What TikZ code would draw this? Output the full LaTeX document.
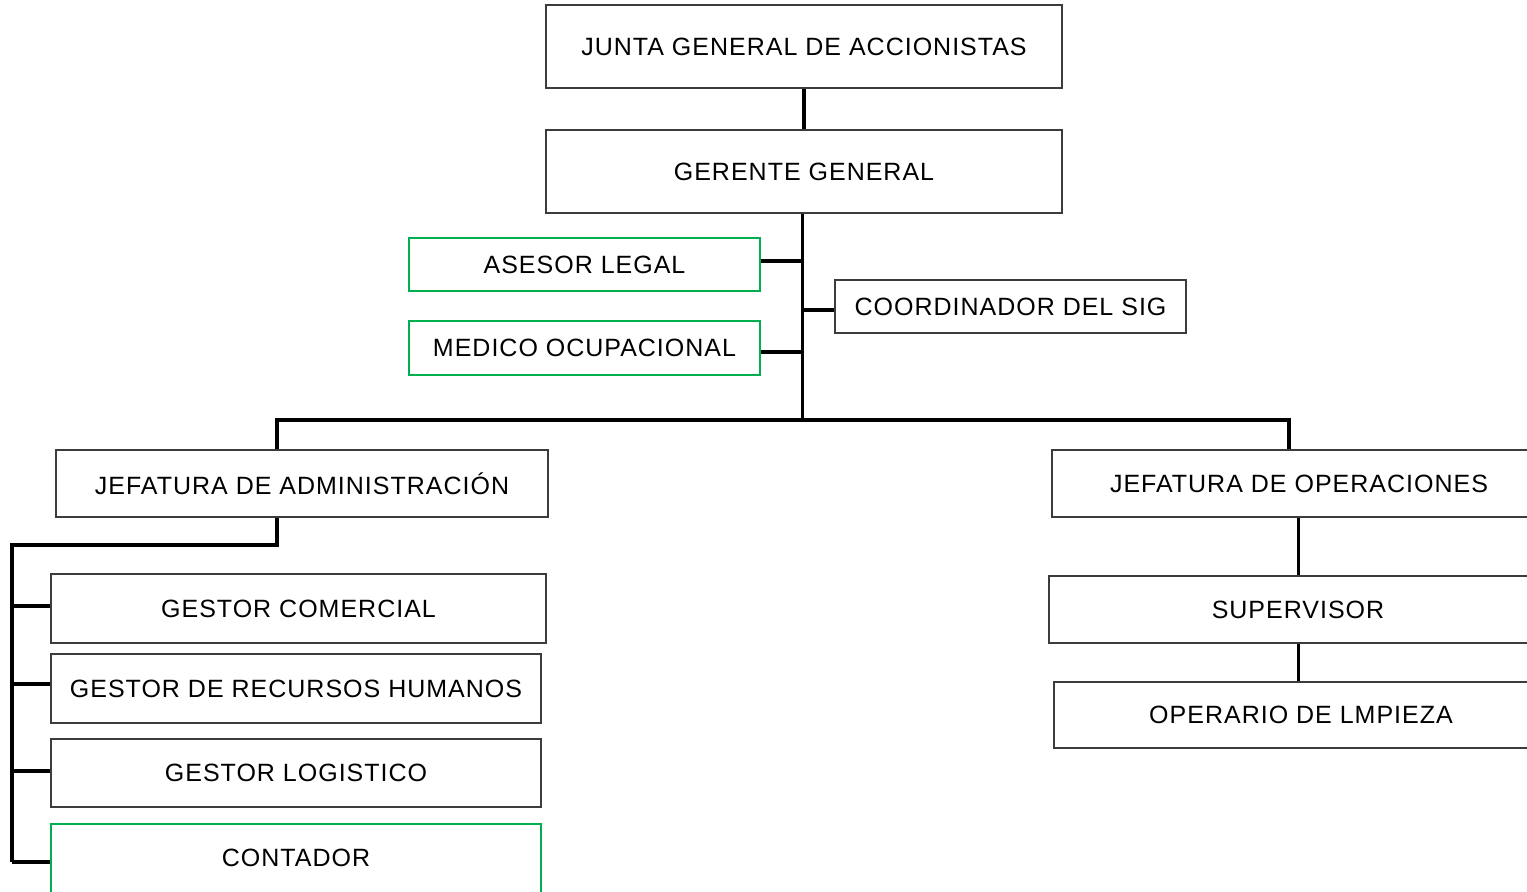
\documentclass[tikz,border=0pt]{standalone}
\usepackage{fontspec}
\setmainfont{Liberation Sans}[LetterSpace=4]
\definecolor{boxgreen}{RGB}{0,176,80}
\definecolor{boxgray}{RGB}{60,60,60}
\tikzset{
  orgbox/.style={draw=boxgray, line width=1.1pt, fill=white, inner sep=0pt, align=center,
    font=\fontsize{25}{30}\selectfont},
  greenbox/.style={orgbox, draw=boxgreen},
  conn/.style={line width=3.2pt, black}
}
\begin{document}
\begin{tikzpicture}[x=1pt,y=-1pt]
\clip (0,0) rectangle (1527,892);
\fill[white] (0,0) rectangle (1527,892);
% nodes
\node[orgbox, minimum width=516pt, minimum height=83pt] (junta) at (804,46.5) {JUNTA GENERAL DE ACCIONISTAS};
\node[orgbox, minimum width=516pt, minimum height=83pt] (gerente) at (804,171.5) {GERENTE GENERAL};
\node[greenbox, minimum width=351pt, minimum height=53pt] (asesor) at (584.5,264.5) {ASESOR LEGAL};
\node[greenbox, minimum width=351pt, minimum height=54pt] (medico) at (584.5,348) {MEDICO OCUPACIONAL};
\node[orgbox, minimum width=351pt, minimum height=53pt] (coord) at (1010.5,306.5) {COORDINADOR DEL SIG};
\node[orgbox, minimum width=492pt, minimum height=67pt] (jadm) at (302,483.5) {JEFATURA DE ADMINISTRACIÓN};
\node[orgbox, minimum width=494pt, minimum height=67pt] (jops) at (1299,483.5) {JEFATURA DE OPERACIONES};
\node[orgbox, minimum width=495pt, minimum height=69pt] (gcom) at (298.5,608.5) {GESTOR COMERCIAL};
\node[orgbox, minimum width=490pt, minimum height=69pt] (grrhh) at (296,688.5) {GESTOR DE RECURSOS HUMANOS};
\node[orgbox, minimum width=490pt, minimum height=68pt] (glog) at (296,773) {GESTOR LOGISTICO};
\node[greenbox, minimum width=490pt, minimum height=76pt] (cont) at (296,862) {};
\node[font=\fontsize{25}{30}\selectfont, inner sep=0pt] (contt) at (296,858) {CONTADOR};
\node[orgbox, minimum width=498pt, minimum height=67pt] (sup) at (1298,609.5) {SUPERVISOR};
\node[orgbox, minimum width=494pt, minimum height=66pt] (oper) at (1301,715) {OPERARIO DE LMPIEZA};
% coordinates
\coordinate (bar) at (802.5,420);
\coordinate (ba) at (277,420);
\coordinate (bo) at (1289,420);
\coordinate (ad1) at (277,545);
\coordinate (rail) at (12,545);
\coordinate (opx) at (1298.5,0);
% connectors
\draw[conn] (junta.south) -- (gerente.north);
\draw[conn] (gerente.south -| bar) -- (bar);
\draw[conn] (asesor.east |- 0,261) -- (bar |- 0,261);
\draw[conn] (medico.east |- 0,352) -- (bar |- 0,352);
\draw[conn] (coord.west |- 0,310) -- (bar |- 0,310);
\draw[conn] (ba |- jadm.north) -- (ba) -- (bo) -- (bo |- jops.north);
\draw[conn] (ad1 |- jadm.south) -- (ad1) -- (rail) -- (rail |- 0,862);
\draw[conn] (rail |- 0,606) -- (gcom.west |- 0,606);
\draw[conn] (rail |- 0,684) -- (grrhh.west |- 0,684);
\draw[conn] (rail |- 0,771) -- (glog.west |- 0,771);
\draw[conn] (rail |- 0,862) -- (cont.west |- 0,862);
\draw[conn] (opx |- jops.south) -- (opx |- sup.north);
\draw[conn] (opx |- sup.south) -- (opx |- oper.north);
\end{tikzpicture}
\end{document}
